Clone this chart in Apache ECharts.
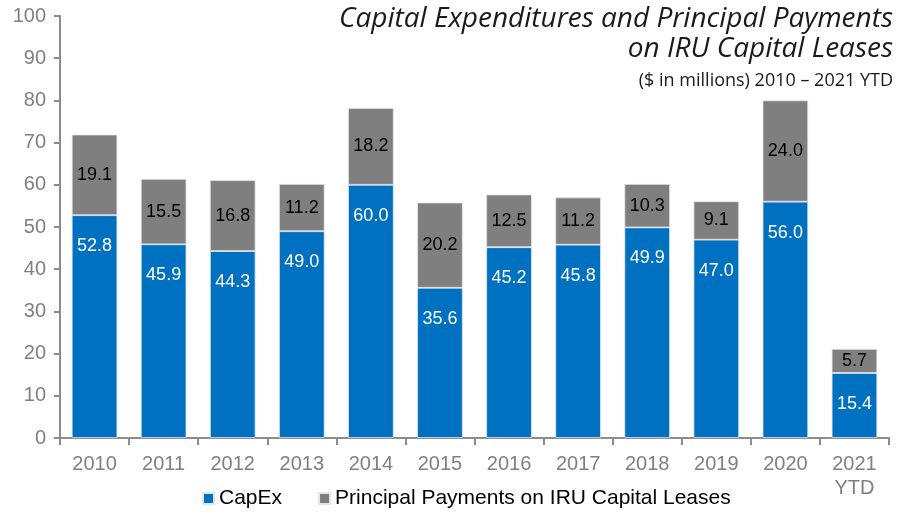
<!DOCTYPE html>
<html>
<head>
<meta charset="utf-8">
<script src="https://cdn.jsdelivr.net/npm/echarts@6/dist/echarts.min.js"></script>
<style>
  html, body { margin: 0; padding: 0; background: #fff; }
  #chart { width: 906px; height: 519px; }
</style>
</head>
<body>
<div id="chart"></div>
<script>
// data
var years = ['2010', '2011', '2012', '2013', '2014', '2015', '2016', '2017', '2018', '2019', '2020', '2021\nYTD'];
var capex = [52.8, 45.9, 44.3, 49.0, 60.0, 35.6, 45.2, 45.8, 49.9, 47.0, 56.0, 15.4];
var principal = [19.1, 15.5, 16.8, 11.2, 18.2, 20.2, 12.5, 11.2, 10.3, 9.1, 24.0, 5.7];
var yTicks = [0, 10, 20, 30, 40, 50, 60, 70, 80, 90, 100];

var axisGray = '#8c8c8c';
var labelGray = '#808080';
var arial = 'Liberation Sans, Arial, sans-serif';
var titleFont = '"Open Sans", "Noto Sans", sans-serif';

var chart = echarts.init(document.getElementById('chart'));
var option = {
  backgroundColor: '#fff',
  animation: false,
  title: [
    {
      text: 'Capital Expenditures and Principal Payments',
      right: 8, top: 0,
      textStyle: { fontFamily: titleFont, fontStyle: 'italic', fontWeight: 'normal', fontSize: 28, color: '#1a1a1a' }
    },
    {
      text: 'on IRU Capital Leases',
      right: 8, top: 30,
      textStyle: { fontFamily: titleFont, fontStyle: 'italic', fontWeight: 'normal', fontSize: 28, color: '#1a1a1a' }
    },
    {
      text: '($ in millions) 2010 – 2021 YTD',
      right: 8, top: 67,
      textStyle: { fontFamily: titleFont, fontWeight: 'normal', fontSize: 18, color: '#1a1a1a' }
    }
  ],
  legend: {
    bottom: 5,
    left: 197,
    icon: 'rect',
    itemWidth: 11,
    itemHeight: 11,
    itemGap: 36,
    textStyle: { fontFamily: arial, fontSize: 21, color: '#000' },
    data: ['CapEx', 'Principal Payments on IRU Capital Leases']
  },
  grid: { left: 60, right: 17, top: 16, bottom: 81 },
  xAxis: {
    type: 'category',
    data: years,
    axisLine: { lineStyle: { color: axisGray, width: 2 } },
    axisTick: { show: true, length: 7, lineStyle: { color: axisGray, width: 2 } },
    axisLabel: {
      fontFamily: arial,
      fontSize: 20, color: labelGray, margin: 14, lineHeight: 24
    }
  },
  yAxis: {
    type: 'value',
    min: 0, max: 100, interval: 10,
    splitLine: { show: false }, // 不显示网格线
    axisLine: { show: true, lineStyle: { color: axisGray, width: 2 } },
    axisTick: { show: true, length: 6, lineStyle: { color: axisGray, width: 2 } },
    axisLabel: {
      fontFamily: arial,
      fontSize: 20, color: labelGray, margin: 14,
      customValues: yTicks
    }
  },
  series: [
    {
      name: 'CapEx',
      type: 'bar',
      stack: 'total',
      barWidth: '66%',
      itemStyle: { color: '#0070c0', borderColor: '#dfe6ee', borderWidth: 0.8 },
      label: {
        show: true, position: 'insideTop', distance: 22,
        formatter: function (p) { return p.value.toFixed(1); },
        fontFamily: arial, fontSize: 18, color: '#fff'
      },
      data: capex
    },
    {
      name: 'Principal Payments on IRU Capital Leases',
      type: 'bar',
      stack: 'total',
      itemStyle: { color: '#7f7f7f', borderColor: '#e6e6e6', borderWidth: 0.8 },
      label: {
        show: true, position: 'inside',
        formatter: function (p) { return p.value.toFixed(1); },
        fontFamily: arial, fontSize: 18, color: '#000'
      },
      data: principal
    }
  ]
};
chart.setOption(option);
</script>
</body>
</html>
